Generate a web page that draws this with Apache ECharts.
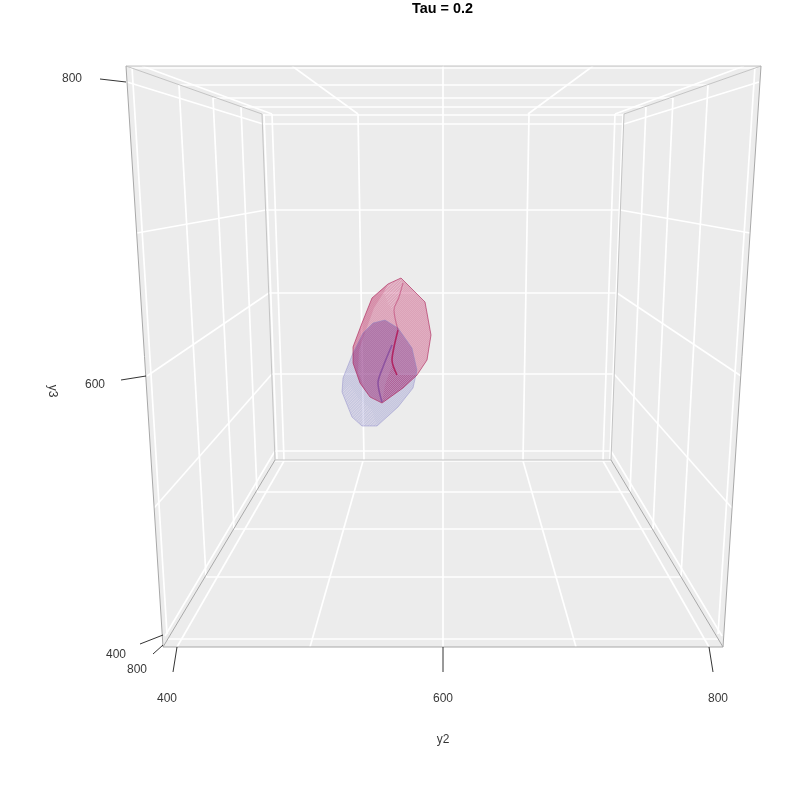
<!DOCTYPE html>
<html>
<head>
<meta charset="utf-8">
<style>html,body{margin:0;padding:0;background:#fff}#c{width:800px;height:800px}</style>
<script src="https://cdn.jsdelivr.net/npm/echarts@6/dist/echarts.min.js"></script>
</head>
<body>
<div id="c"></div>
<script>
// Values, in the projected plane of the 3-D box.
const titleText = 'Tau = 0.2';
const xName = 'y2';
const zName = 'y3';

const backWall  = [[262,114],[624,114],[611,460],[275,460]];
const leftWall  = [[126,66],[262,114],[275,460],[163,647]];
const rightWall = [[761,66],[624,114],[611,460],[723,647]];
const floorWall = [[275,460],[611,460],[723,647],[163,647]];
const ceilWall  = [[126,66],[761,66],[624,114],[262,114]];

const backGrid = [
  [272,114,284,460],[358,114,364,460],[443,114,443,460],[529,114,523,460],[615,114,603,460],
  [263,124,624,124],[266,210,621,210],[269,293,617,293],[272,374,614,374],[275,451,611,451]
];
const leftGrid = [
  [263,124,127,82],[266,210,137,233],[269,293,147,376],[272,374,154,508],[275,451,165,636],
  [132,67,167,634],[179,85,206,577],[213,98,234,529],[241,107,257,492],[264,114,277,459]
];
const rightGrid = [
  [624,124,759,82],[620,210,750,233],[617,293,741,376],[614,374,732,508],[611,451,722,636],
  [755,67,718,634],[708,85,681,577],[673,98,653,529],[646,107,630,492],[623,114,610,459]
];
const floorGrid = [
  [275,461,611,461],[257,492,630,492],[234,529,653,529],[206,577,681,577],[168,639,718,639],
  [284,461,177,647],[363,461,310,647],[443,461,443,647],[523,461,576,647],[603,461,709,647]
];
const ceilGrid = [
  [130,68,757,68],[179,85,708,85],[213,98,673,98],[241,107,646,107],[263,115,624,115],
  [272,114,142,66],[358,114,292,66],[443,114,443,66],[528,114,593,66],[615,114,744,66]
];
const edgesLight = [
  [126,66,761,66],[126,66,262,114],[761,66,624,114],[262,114,275,460],[624,114,611,460],[275,460,611,460]
];
const edgesDark = [
  [126,66,163,647],[761,66,723,647],[163,647,723,647],[163,647,275,460],[723,647,611,460]
];
const tickMarks = [
  [100,79,126,82],[121,380,146,376],[140,644,163,635],[153,654,163,645],
  [173,672,177,647],[443,672,443,647],[713,672,709,647]
];
const tickLabels = ['800','600','400','800','400','600','800'];
const tickLabelAt = [[72,79],[95,385],[116,655],[137,670],[167,699],[443,699],[718,699]];

const blueHull = [[385,320],[398,328],[412,348],[417,370],[413,388],[398,407],[377,426],[362,426],[352,417],[342,392],[343,378],[353,353],[363,333],[373,323]];
const blueLowerFold = [[342,392],[352,417],[362,426],[377,426],[372,410],[358,398],[350,385]];
const blueCentreFold = [[378,383],[383,367],[392,345],[398,328],[385,320],[373,323],[363,333],[353,353],[356,372],[366,392],[382,403]];
const redHull = [[401,278],[425,302],[431,335],[427,360],[417,375],[403,388],[382,403],[370,397],[360,383],[353,363],[353,347],[362,323],[372,298],[388,284]];
const redLeftRim = [[353,347],[362,323],[372,298],[388,284],[384,292],[374,308],[366,330],[359,350],[358,372],[366,392],[360,383],[353,363]];
const redTopWedge = [[388,284],[401,278],[404,288],[398,300],[394,312],[388,304],[384,292]];
const redLowerWedge = [[397,375],[417,375],[403,388],[382,403],[385,385],[392,365]];
const overlapArea = [[385,320],[398,328],[412,348],[417,370],[417,375],[403,388],[382,403],[370,397],[360,383],[353,363],[353,353],[363,333],[373,323]];
const redRidgeUpper = [[403,283],[399,297],[394,310],[398,330]];
const redRidgeLower = [[398,330],[394,347],[392,360],[397,375]];
const blueRidge = [[392,345],[383,367],[378,383],[382,402]];

function hatch(color, size) {
  const cv = document.createElement('canvas');
  cv.width = size; cv.height = size;
  const g = cv.getContext('2d');
  g.strokeStyle = color; g.lineWidth = 0.8;
  g.beginPath();
  for (let i = -size; i < size * 2; i += size) { g.moveTo(i, size); g.lineTo(i + size, 0); }
  g.stroke();
  return { image: cv, repeat: 'repeat' };
}
const redHatch = hatch('rgba(175,30,90,0.10)', 2);
const redHatchStrong = hatch('rgba(175,25,85,0.30)', 2);
const blueHatch = hatch('rgba(105,100,185,0.10)', 2);
const lightHatch = hatch('rgba(250,240,245,0.30)', 3);

function polygon(data, fill, stroke, lineWidth) {
  return {
    type: 'custom', coordinateSystem: 'cartesian2d', silent: true, clip: false, data,
    encode: { x: 0, y: 1 },
    renderItem(params, api) {
      if (params.context.rendered) return;
      params.context.rendered = true;
      return {
        type: 'polygon',
        shape: { points: data.map(p => api.coord(p)) },
        style: { fill: fill || 'none', stroke: stroke || 'none', lineWidth: lineWidth || 0, lineJoin: 'round' }
      };
    }
  };
}
function polyline(data, stroke, lineWidth) {
  return {
    type: 'line', data, symbol: 'none', silent: true, clip: false, smooth: 0.3,
    lineStyle: { color: stroke, width: lineWidth }, z: 2
  };
}
function segments(data, color, width) {
  return {
    type: 'custom', coordinateSystem: 'cartesian2d', silent: true, clip: false, data,
    encode: { x: [0, 2], y: [1, 3] },
    renderItem(params, api) {
      const a = api.coord([api.value(0), api.value(1)]);
      const b = api.coord([api.value(2), api.value(3)]);
      return { type: 'line', shape: { x1: a[0], y1: a[1], x2: b[0], y2: b[1] },
        style: { stroke: color, lineWidth: width, fill: 'none' } };
    }
  };
}
function labels(points, texts, extra) {
  return {
    type: 'scatter', data: points, symbolSize: 0, silent: true, clip: false, z: 5,
    label: Object.assign({
      show: true, position: 'inside', color: '#000', fontSize: 12,
      textBorderWidth: 0, textBorderColor: 'transparent',
      fontFamily: '"Liberation Sans", Arial, sans-serif',
      formatter: p => texts[p.dataIndex]
    }, extra || {})
  };
}

const panel = '#ececec';
const chart = echarts.init(document.getElementById('c'), null, { renderer: 'canvas' });
chart.setOption({
  animation: false,
  backgroundColor: '#fff',
  title: {
    text: titleText, left: 412, top: 2, padding: 0,
    textStyle: { fontFamily: '"Liberation Sans", Arial, sans-serif', fontSize: 14.4, fontWeight: 'bold', color: '#000' }
  },
  grid: { left: 0, right: 0, top: 0, bottom: 0, containLabel: false },
  xAxis: { type: 'value', min: 0, max: 800, show: false },
  yAxis: { type: 'value', min: 0, max: 800, inverse: true, show: false },
  series: [
    polygon(backWall, panel), polygon(leftWall, panel), polygon(rightWall, panel),
    polygon(floorWall, panel), polygon(ceilWall, panel),
    segments(backGrid, '#fff', 1.7), segments(leftGrid, '#fff', 1.7), segments(rightGrid, '#fff', 1.7),
    segments(floorGrid, '#fff', 1.7), segments(ceilGrid, '#fff', 1.7),
    segments(edgesLight, '#c4c4c4', 1), segments(edgesDark, '#a8a8a8', 1),
    segments(tickMarks, '#000', 0.8),

    polygon(blueHull, 'rgba(130,130,200,0.27)'),
    polygon(blueHull, blueHatch),
    polygon(blueLowerFold, lightHatch),
    polygon(blueCentreFold, 'rgba(120,110,190,0.06)'),
    polygon(redHull, 'rgba(200,50,105,0.33)'),
    polygon(redHull, redHatch),
    polygon(redLeftRim, 'rgba(180,30,90,0.16)'),
    polygon(redTopWedge, lightHatch),
    polygon(redLowerWedge, redHatchStrong),
    polygon(overlapArea, 'rgba(120,60,150,0.22)'),
    polygon(blueHull, 'none', 'rgba(140,135,200,0.45)', 1),
    polygon(redHull, 'none', 'rgba(170,30,85,0.6)', 1),
    polyline(redRidgeUpper, 'rgba(175,25,85,0.40)', 1.2),
    polyline(redRidgeLower, 'rgba(175,15,80,0.80)', 1.6),
    polyline(blueRidge, 'rgba(110,50,150,0.55)', 1.6),

    labels(tickLabelAt, tickLabels),
    labels([[443,740]], [xName]),
    labels([[52,391]], [zName], { rotate: -90 })
  ]
});
</script>
</body>
</html>
